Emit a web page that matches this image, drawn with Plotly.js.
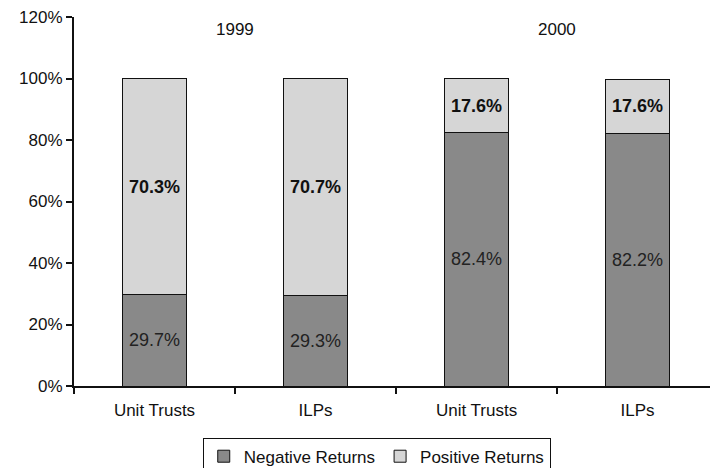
<!DOCTYPE html>
<html>
<head>
<meta charset="utf-8">
<script src="https://cdn.plot.ly/plotly-3.0.1.min.js"></script>
<style>html,body{margin:0;padding:0;background:#fff;}#chart{width:710px;height:468px;}</style>
</head>
<body>
<div id="chart"></div>
<script>
const categories = ["UT-1999", "ILP-1999", "UT-2000", "ILP-2000"];
const tickLabels = ["Unit Trusts", "ILPs", "Unit Trusts", "ILPs"];
const negativeReturns = [29.7, 29.3, 82.4, 82.2];
const positiveReturns = [70.3, 70.7, 17.6, 17.6];
const yearLabels = ["1999", "2000"];

const fam = "Liberation Sans, Arial, sans-serif";
const font = {family: fam, size: 17, color: "#111"};

const traces = [
  {
    type: "bar", name: "Negative Returns", x: categories, y: negativeReturns,
    marker: {color: "#898989", line: {color: "#111", width: 1}},
    texttemplate: "%{y:.1f}%", textposition: "inside", insidetextanchor: "middle",
    textfont: {family: fam, size: 18, color: "#222"}, width: 0.4,
    hoverinfo: "skip"
  },
  {
    type: "bar", name: "Positive Returns", x: categories, y: positiveReturns,
    marker: {color: "#d6d6d6", line: {color: "#111", width: 1}},
    texttemplate: "<b>%{y:.1f}%</b>", textposition: "inside", insidetextanchor: "middle",
    textfont: {family: fam, size: 18, color: "#111"}, width: 0.4,
    hoverinfo: "skip"
  }
];

const layout = {
  width: 710, height: 468,
  margin: {l: 74, r: 0, t: 17, b: 82, autoexpand: false},
  barmode: "stack",
  paper_bgcolor: "#fff", plot_bgcolor: "#fff",
  font: font,
  showlegend: true,
  legend: {
    orientation: "h", x: 0.476, xanchor: "center", y: -0.14, yanchor: "top",
    bordercolor: "#111", borderwidth: 1, font: {family: fam, size: 17, color: "#111"},
    traceorder: "normal", itemwidth: 30, tracegroupgap: 0
  },
  xaxis: {
    type: "category", categoryorder: "array", categoryarray: categories,
    range: [-0.5, 3.45],
    tickvals: categories, ticktext: tickLabels,
    tickson: "boundaries", ticks: "outside", ticklen: 6, tickwidth: 2, tickcolor: "#111",
    ticklabelstandoff: 8,
    showline: true, linecolor: "#111", linewidth: 2, showgrid: false, zeroline: false,
    tickfont: {family: fam, size: 17, color: "#111"}, fixedrange: true
  },
  yaxis: {
    range: [0, 120], tickvals: [0, 20, 40, 60, 80, 100, 120],
    ticktext: ["0%", "20%", "40%", "60%", "80%", "100%", "120%"],
    ticks: "outside", ticklen: 6, tickwidth: 2, tickcolor: "#111",
    showline: true, linecolor: "#111", linewidth: 2, showgrid: false, zeroline: false,
    tickfont: {family: fam, size: 17, color: "#111"}, fixedrange: true
  },
  annotations: [
    {text: yearLabels[0], x: 0.5, y: 116, xref: "x", yref: "y", showarrow: false,
     font: {family: fam, size: 17, color: "#111"}},
    {text: yearLabels[1], x: 2.5, y: 116, xref: "x", yref: "y", showarrow: false,
     font: {family: fam, size: 17, color: "#111"}}
  ]
};

Plotly.newPlot("chart", traces, layout, {displayModeBar: false, staticPlot: true});
</script>
</body>
</html>
